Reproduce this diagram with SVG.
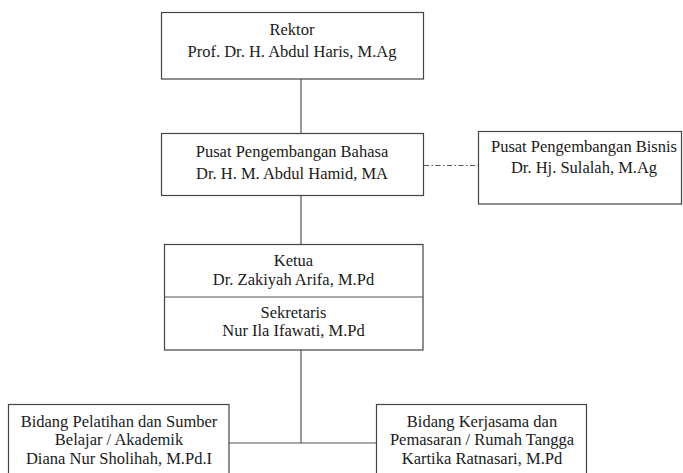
<svg xmlns="http://www.w3.org/2000/svg" width="683" height="473" viewBox="0 0 683 473">
<style>
.box{fill:#fff;stroke:#444;stroke-width:1.2}
.ln{fill:none;stroke:#555;stroke-width:1.2}
.t{font-family:'Liberation Serif','Times New Roman',Times,serif;font-size:16.5px;fill:#1a1a1a;text-anchor:middle}
</style>
<rect width="683" height="473" fill="#fff"/>
<g id="connectors">
<line class="ln" x1="301" y1="79" x2="301" y2="133"/>
<line class="ln" x1="301" y1="195" x2="301" y2="244"/>
<line class="ln" x1="424" y1="165.5" x2="478" y2="165.5" stroke-dasharray="5,2.5,1.5,2.5"/>
<line class="ln" x1="301" y1="350" x2="301" y2="443"/>
<line class="ln" x1="229" y1="443" x2="376" y2="443"/>
</g>
<g id="rektor">
<rect class="box" x="161.5" y="12.5" width="262" height="66.5"/>
<text class="t" x="292" y="35">Rektor</text>
<text class="t" x="292" y="57">Prof. Dr. H. Abdul Haris, M.Ag</text>
</g>
<g id="pusat-bahasa">
<rect class="box" x="161.5" y="133.5" width="262" height="62"/>
<text class="t" x="292" y="157">Pusat Pengembangan Bahasa</text>
<text class="t" x="292" y="179">Dr. H. M. Abdul Hamid, MA</text>
</g>
<g id="pusat-bisnis">
<rect class="box" x="478.5" y="131.5" width="203" height="72.5"/>
<text class="t" x="584" y="152">Pusat Pengembangan Bisnis</text>
<text class="t" x="584" y="173">Dr. Hj. Sulalah, M.Ag</text>
</g>
<g id="ketua-sekretaris">
<rect class="box" x="164.5" y="244.5" width="258.5" height="105.5"/>
<line class="ln" x1="164.5" y1="297" x2="423" y2="297"/>
<text class="t" x="293.5" y="266">Ketua</text>
<text class="t" x="293.5" y="284.5">Dr. Zakiyah Arifa, M.Pd</text>
<text class="t" x="293.5" y="317.5">Sekretaris</text>
<text class="t" x="293.5" y="336">Nur Ila Ifawati, M.Pd</text>
</g>
<g id="bidang-akademik">
<rect class="box" x="8.5" y="404.5" width="220.5" height="80"/>
<text class="t" x="119" y="426.5">Bidang Pelatihan dan Sumber</text>
<text class="t" x="119" y="445">Belajar / Akademik</text>
<text class="t" x="119" y="463.5">Diana Nur Sholihah, M.Pd.I</text>
</g>
<g id="bidang-kerjasama">
<rect class="box" x="376.5" y="404.5" width="210" height="80"/>
<text class="t" x="482" y="426.5">Bidang Kerjasama dan</text>
<text class="t" x="482" y="445">Pemasaran / Rumah Tangga</text>
<text class="t" x="482" y="463.5">Kartika Ratnasari, M.Pd</text>
</g>
</svg>
